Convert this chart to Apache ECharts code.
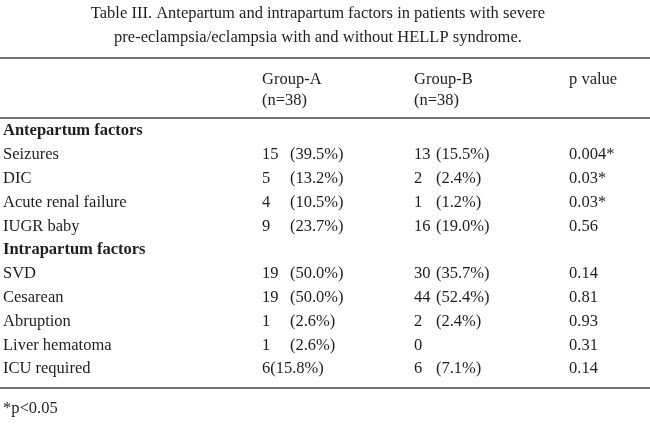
<!DOCTYPE html>
<html>
<head>
<meta charset="utf-8">
<script src="https://cdn.jsdelivr.net/npm/echarts@6/dist/echarts.min.js"></script>
<style>html,body{margin:0;padding:0;background:#fff}#c{width:650px;height:431px}</style>
</head>
<body>
<div id="c"></div>
<script>
var titleLines = ['Table III. Antepartum and intrapartum factors in patients with severe',
  'pre-eclampsia/eclampsia with and without HELLP syndrome.'];
var headers = [['Group-A', '(n=38)'], ['Group-B', '(n=38)'], ['p value', '']];
// section: true marks a bold heading row
var rowLabels = ['Antepartum factors', 'Seizures', 'DIC', 'Acute renal failure', 'IUGR baby',
  'Intrapartum factors', 'SVD', 'Cesarean', 'Abruption', 'Liver hematoma', 'ICU required'];
var sectionRows = [0, 5];
var groupACount = ['', '15', '5', '4', '9', '', '19', '19', '1', '1', '6(15.8%)'];
var groupAPct = ['', '(39.5%)', '(13.2%)', '(10.5%)', '(23.7%)', '', '(50.0%)', '(50.0%)', '(2.6%)', '(2.6%)', ''];
var groupBCount = ['', '13', '2', '1', '16', '', '30', '44', '2', '0', '6'];
var groupBPct = ['', '(15.5%)', '(2.4%)', '(1.2%)', '(19.0%)', '', '(35.7%)', '(52.4%)', '(2.4%)', '', '(7.1%)'];
var pValues = ['', '0.004*', '0.03*', '0.03*', '0.56', '', '0.14', '0.81', '0.93', '0.31', '0.14'];
var footnote = '*p<0.05';

var chart = echarts.init(document.getElementById('c'));
var font = '"Liberation Serif", "DejaVu Serif", serif';
var color = '#1e1e1e';
function txt(x, y, s, bold, align) {
  return { type: 'text', x: x, y: y, style: { text: s, fill: color, font: (bold ? 'bold ' : '') + '16.5px ' + font, textAlign: align || 'left', textVerticalAlign: 'middle' } };
}
function rule(y) {
  return { type: 'line', shape: { x1: 0, y1: y, x2: 650, y2: y }, style: { stroke: '#444', lineWidth: 1.3 } };
}
var els = [];
titleLines.forEach(function (t, i) { els.push(txt(318, 14 + i * 24, t, false, 'center')); });
els.push(rule(58));
var colX = [262, 414, 569];
headers.forEach(function (h, i) {
  els.push(txt(colX[i], 80, h[0]));
  els.push(txt(colX[i], 101, h[1]));
});
els.push(rule(118));
var rowY0 = 131, rowH = 23.8;
rowLabels.forEach(function (lab, i) {
  var y = rowY0 + i * rowH;
  var bold = sectionRows.indexOf(i) >= 0;
  els.push(txt(3, y, lab, bold));
  els.push(txt(262, y, groupACount[i]));
  els.push(txt(290, y, groupAPct[i]));
  els.push(txt(414, y, groupBCount[i]));
  els.push(txt(436, y, groupBPct[i]));
  els.push(txt(569, y, pValues[i]));
});
els.push(rule(388));
els.push(txt(3, 409, footnote));
chart.setOption({ backgroundColor: '#fff', graphic: els });
</script>
</body>
</html>
